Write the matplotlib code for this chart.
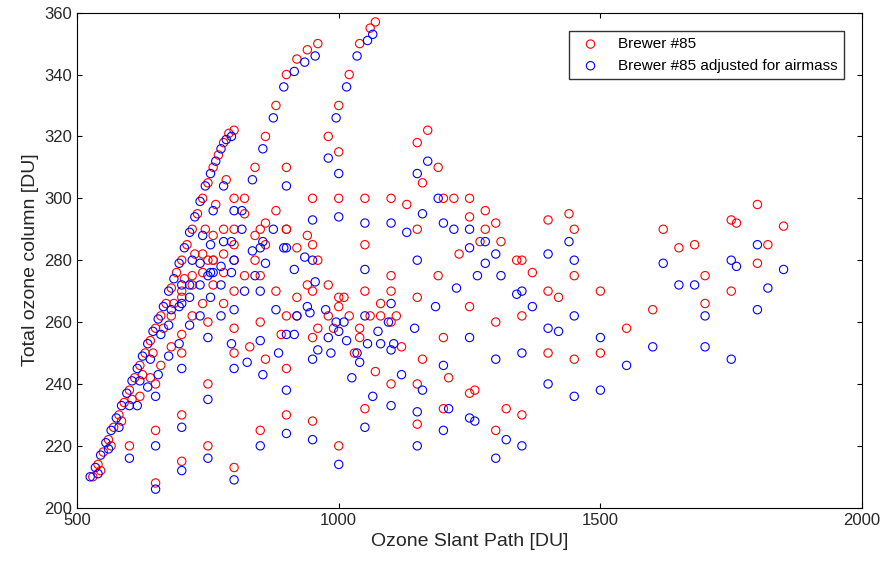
import matplotlib
matplotlib.use("Agg")
import matplotlib.pyplot as plt

red_x = [530,540,550,560,570,580,590,600,610,620,630,640,650,660,670,680,690,700,710,720,730,740,750,760,770,780,790,800,
         545,565,585,605,625,645,665,685,705,725,745,765,785,
         820,840,860,880,900,920,940,960,1000,1020,1040,1060,1070,
         900,950,1000,1050,1100,1150,1170,1200,1250,1280,1300,1350,1400,1440,1450,
         700,750,800,850,900,950,1000,1050,1100,1150,1200,1250,1300,1350,1400,1450,1500,1550,1600,1620,1650,1680,1700,1750,1760,1800,1820,1850,1700,1750,1800,
         650,700,750,800,850,900,950,1000,1050,1100,1150,1200,1250,1300,1350,1400,1450,1500,
         700,750,800,850,650,600,650,700,750,800,850,900,950,980,1000,1050,1100,1150,
         760,780,800,820,840,860,880,900,920,940,960,980,1010,1040,1080,1120,1160,1210,1260,1320,
         720,740,760,780,800,820,840,860,880,900,920,940,960,980,1000,1020,1040,1060,1080,1100,
         680,700,720,740,760,780,800,830,860,890,920,950,990,1030,1070,1110,1150,1190,1230,1270,
         620,640,660,680,700,720,740,760,780,800,1130,1160,1190,1220,1250,1280,1310,1340,1370,1420]
red_y = [210,214,218,222,226,230,234,238,242,246,250,254,258,262,266,271,276,280,285,290,295,300,305,310,314,318,321,322,
         212,220,228,235,243,250,258,266,274,282,290,298,306,
         300,310,320,330,340,345,348,350,330,340,350,355,357,
         290,285,300,300,300,318,322,300,300,296,292,280,293,295,290,
         230,240,250,260,245,255,265,270,260,240,255,265,260,262,270,275,270,258,264,290,284,285,275,293,292,298,285,291,266,270,279,
         208,215,220,213,225,230,228,220,232,240,227,232,237,225,230,250,248,250,
         270,280,285,275,240,220,225,250,260,270,290,310,300,320,315,285,275,290,
         280,290,300,275,280,285,270,262,268,272,258,262,268,255,262,252,248,242,238,232,
         275,282,288,282,290,295,288,292,296,290,284,288,280,272,268,262,258,262,266,270,
         262,268,272,276,280,266,258,252,248,256,262,270,258,250,244,262,268,275,282,286,
         236,242,246,252,256,262,266,272,276,280,298,305,310,300,294,290,286,280,276,268]

blue_x = [525,535,545,555,565,575,585,595,605,615,625,635,645,655,665,675,685,695,705,715,725,735,745,755,765,775,785,795,
          540,560,580,600,620,640,660,680,700,720,740,760,780,
          815,835,855,875,895,915,935,955,995,1015,1035,1055,1065,
          900,950,1000,1050,1100,1150,1170,1200,1250,1280,1300,1350,1400,1440,1450,
          700,750,800,850,900,950,1000,1050,1100,1150,1200,1250,1300,1350,1400,1450,1500,1550,1600,1620,1650,1680,1700,1750,1760,1800,1820,1850,1700,1750,1800,
          650,700,750,800,850,900,950,1000,1050,1100,1150,1200,1250,1300,1350,1400,1450,1500,
          700,750,800,850,650,600,650,700,750,800,850,900,950,980,1000,1050,1100,1150,
          760,780,800,820,840,860,880,900,920,940,960,980,1010,1040,1080,1120,1160,1210,1260,1320,
          715,735,755,775,795,815,835,855,875,895,915,935,955,975,995,1015,1035,1055,1075,1095,
          675,695,715,735,755,775,795,825,855,885,915,945,985,1025,1065,1105,1145,1185,1225,1265,
          615,635,655,675,695,715,735,755,775,795,1130,1160,1190,1220,1250,1280,1310,1340,1370,1420]
blue_y = [210,213,217,221,225,229,233,237,241,245,249,253,257,261,265,270,274,279,284,289,294,299,304,308,312,316,319,320,
          211,219,226,233,241,248,256,264,272,280,288,296,304,
          296,306,316,326,336,341,344,346,326,336,346,351,353,
          284,280,294,292,292,308,312,292,290,286,282,270,282,286,280,
          226,235,245,254,238,248,257,262,251,231,246,255,248,250,258,262,255,246,252,279,272,272,262,280,278,285,271,277,252,248,264,
          206,212,216,209,220,224,222,214,226,233,220,225,229,216,220,240,236,238,
          266,275,280,270,236,216,220,245,255,264,284,304,293,313,308,277,266,280,
          276,286,296,270,275,279,264,256,262,265,251,255,260,247,253,243,238,232,228,222,
          272,279,285,278,286,290,283,286,290,284,277,281,273,264,260,254,250,253,257,260,
          259,265,268,272,276,262,253,247,243,250,256,263,250,242,236,253,258,265,271,275,
          233,239,243,249,253,259,262,268,272,276,289,295,300,290,284,279,275,269,265,257]

plt.rcParams['font.family'] = ['Liberation Sans', 'DejaVu Sans']
fig, ax = plt.subplots(figsize=(8.86, 5.75), dpi=100)
fig.subplots_adjust(left=0.087, right=0.973, top=0.978, bottom=0.117)
ax.scatter(red_x, red_y, s=36, facecolors='none', edgecolors='#ff0000', linewidths=0.8, label='Brewer #85')
ax.scatter(blue_x, blue_y, s=36, facecolors='none', edgecolors='#0000ff', linewidths=0.8, label='Brewer #85 adjusted for airmass')
ax.set_xlim(500, 2000)
ax.set_ylim(200, 360)
ax.set_xticks([500, 1000, 1500, 2000])
ax.set_yticks(range(200, 361, 20))
ax.tick_params(direction='in', labelsize=12, top=True, right=True, labelcolor='#262626')
ax.set_xlabel('Ozone Slant Path [DU]', fontsize=14, color='#262626')
ax.set_ylabel('Total ozone column [DU]', fontsize=14, color='#262626')
ax.legend(loc='upper right', fontsize=11, fancybox=False, edgecolor='black', borderaxespad=1.2)
fig.savefig('out.png')
